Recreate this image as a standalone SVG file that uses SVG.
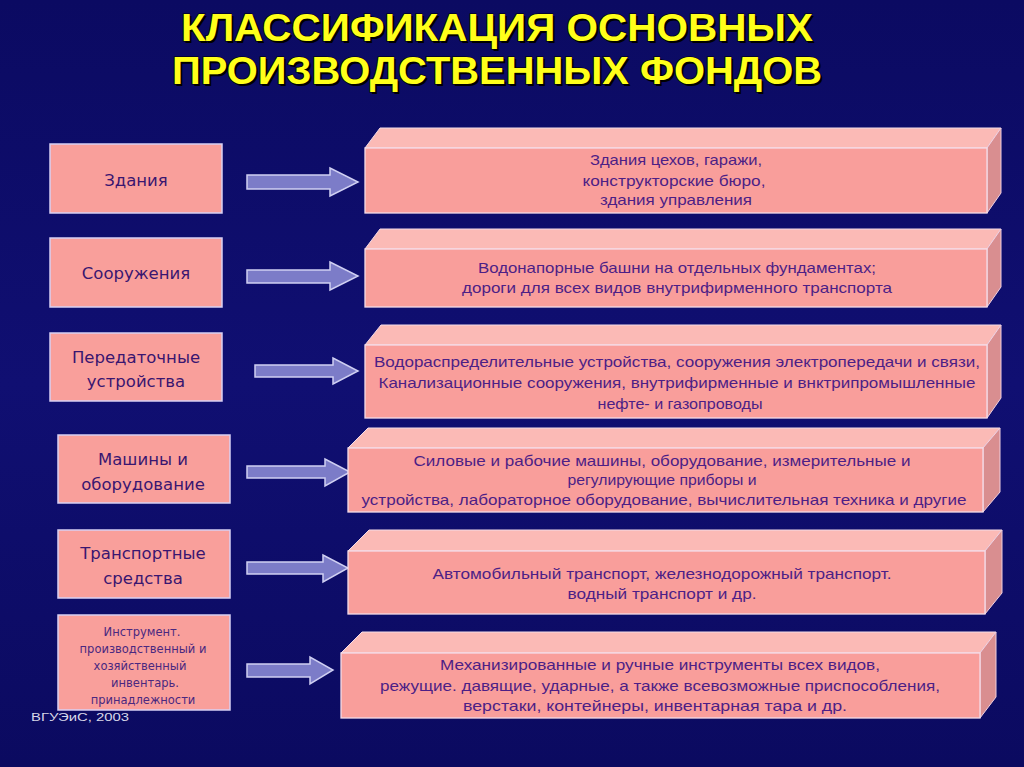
<svg xmlns="http://www.w3.org/2000/svg" width="1024" height="767" viewBox="0 0 1024 767">
<defs>
<linearGradient id="bg" x1="0" y1="0" x2="0" y2="1">
<stop offset="0" stop-color="#0b0a62"/>
<stop offset="0.5" stop-color="#100f72"/>
<stop offset="1" stop-color="#0b0a60"/>
</linearGradient>
<style>
.title{font-family:"Liberation Sans",Arial,sans-serif;font-weight:bold;font-size:39px;fill:#ffff1a;stroke:#000;stroke-width:1.2px;paint-order:stroke;text-anchor:middle}
.shadow{font-family:"Liberation Sans",Arial,sans-serif;font-weight:bold;font-size:39px;fill:#000;text-anchor:middle}
.lbox{fill:#f99f9b;stroke:#d8d0f4;stroke-width:1.5}
.ltxt{font-family:"DejaVu Sans","Liberation Sans",sans-serif;font-size:16.5px;fill:#3a1670;text-anchor:middle}
.stxt{font-family:"DejaVu Sans","Liberation Sans",sans-serif;font-size:11.5px;fill:#4a2880;text-anchor:middle}
.front{fill:#f99e9b;stroke:#f4dce8;stroke-width:1.3}
.top{fill:#fbbab6;stroke:#f4dce8;stroke-width:1}
.side{fill:#d98e90;stroke:#f0d0e0;stroke-width:1}
.rtxt{font-family:"Liberation Sans",Arial,sans-serif;font-size:14.5px;fill:#4d1f86;text-anchor:middle}
.arrow{fill:#7c7cc8;stroke:#cfcff2;stroke-width:1.5}
.foot{font-family:"Liberation Sans",Arial,sans-serif;font-size:11px;fill:#d8d8e8}
</style>
</defs>
<rect width="1024" height="767" fill="url(#bg)"/>

<g id="title">
<text class="shadow" x="499" y="43" textLength="632" lengthAdjust="spacingAndGlyphs">КЛАССИФИКАЦИЯ ОСНОВНЫХ</text>
<text class="shadow" x="499" y="86" textLength="650" lengthAdjust="spacingAndGlyphs">ПРОИЗВОДСТВЕННЫХ ФОНДОВ</text>
<text class="title" x="497" y="41" textLength="632" lengthAdjust="spacingAndGlyphs">КЛАССИФИКАЦИЯ ОСНОВНЫХ</text>
<text class="title" x="497" y="84" textLength="650" lengthAdjust="spacingAndGlyphs">ПРОИЗВОДСТВЕННЫХ ФОНДОВ</text>
</g>

<g id="connectors">
<polygon class="arrow" points="247,175 330,175 330,168 358,182 330,196 330,189 247,189"/>
<polygon class="arrow" points="247,270 330,270 330,262 358,276 330,290 330,283 247,283"/>
<polygon class="arrow" points="255,365 333,365 333,358 358,371 333,384 333,377 255,377"/>
<polygon class="arrow" points="247,466 325,466 325,459 350,472 325,486 325,478 247,478"/>
<polygon class="arrow" points="247,562 323,562 323,555 348,568 323,582 323,574 247,574"/>
<polygon class="arrow" points="247,664 310,664 310,657 333,670 310,684 310,677 247,677"/>
</g>

<g id="n1">
<rect class="lbox" x="50" y="144" width="172" height="69"/>
<text class="ltxt" x="136" y="186">Здания</text>
</g>
<g id="n2">
<rect class="lbox" x="50" y="238" width="172" height="69"/>
<text class="ltxt" x="136" y="279">Сооружения</text>
</g>
<g id="n3">
<rect class="lbox" x="50" y="333" width="172" height="68"/>
<text class="ltxt" x="136" y="363">Передаточные</text>
<text class="ltxt" x="136" y="387">устройства</text>
</g>
<g id="n4">
<rect class="lbox" x="58" y="435" width="172" height="68"/>
<text class="ltxt" x="143" y="465">Машины и</text>
<text class="ltxt" x="143" y="490">оборудование</text>
</g>
<g id="n5">
<rect class="lbox" x="58" y="530" width="172" height="68"/>
<text class="ltxt" x="143" y="559">Транспортные</text>
<text class="ltxt" x="143" y="584">средства</text>
</g>
<g id="n6">
<rect class="lbox" x="58" y="615" width="172" height="95"/>
<text class="stxt" x="142" y="636">Инструмент.</text>
<text class="stxt" x="143" y="653">производственный  и</text>
<text class="stxt" x="140" y="670">хозяйственный</text>
<text class="stxt" x="145" y="687">инвентарь.</text>
<text class="stxt" x="143" y="704">принадлежности</text>
</g>

<g id="r1">
<polygon class="top" points="365,148 380,128 1001,128 987,148"/>
<polygon class="side" points="987,148 1001,128 1001,193 987,213"/>
<rect class="front" x="365" y="148" width="622" height="65"/>
<text class="rtxt" x="676" y="165" textLength="172" lengthAdjust="spacingAndGlyphs">Здания цехов, гаражи,</text>
<text class="rtxt" x="674" y="186" textLength="183" lengthAdjust="spacingAndGlyphs">конструкторские бюро,</text>
<text class="rtxt" x="676" y="205" textLength="152" lengthAdjust="spacingAndGlyphs">здания управления</text>
</g>
<g id="r2">
<polygon class="top" points="365,249 380,229 1001,229 987,249"/>
<polygon class="side" points="987,249 1001,229 1001,287 987,307"/>
<rect class="front" x="365" y="249" width="622" height="58"/>
<text class="rtxt" x="677" y="273" textLength="398" lengthAdjust="spacingAndGlyphs">Водонапорные башни на отдельных фундаментах;</text>
<text class="rtxt" x="677" y="293" textLength="430" lengthAdjust="spacingAndGlyphs">дороги для всех видов внутрифирменного транспорта</text>
</g>
<g id="r3">
<polygon class="top" points="365,345 381,325 1001,325 987,345"/>
<polygon class="side" points="987,345 1001,325 1001,398 987,418"/>
<rect class="front" x="365" y="345" width="622" height="73"/>
<text class="rtxt" x="677" y="367" textLength="606" lengthAdjust="spacingAndGlyphs">Водораспределительные устройства, сооружения электропередачи и связи,</text>
<text class="rtxt" x="677" y="388" textLength="597" lengthAdjust="spacingAndGlyphs">Канализационные сооружения, внутрифирменные и внктрипромышленные</text>
<text class="rtxt" x="680" y="409" textLength="165" lengthAdjust="spacingAndGlyphs">нефте- и газопроводы</text>
</g>
<g id="r4">
<polygon class="top" points="348,448 368,428 1000,428 983,448"/>
<polygon class="side" points="983,448 1000,428 1000,492 983,512"/>
<rect class="front" x="348" y="448" width="635" height="64"/>
<text class="rtxt" x="662" y="466" textLength="497" lengthAdjust="spacingAndGlyphs">Силовые и рабочие машины, оборудование, измерительные и</text>
<text class="rtxt" x="662" y="485" textLength="189" lengthAdjust="spacingAndGlyphs">регулирующие приборы и</text>
<text class="rtxt" x="664" y="505" textLength="605" lengthAdjust="spacingAndGlyphs">устройства, лабораторное оборудование, вычислительная техника и другие</text>
</g>
<g id="r5">
<polygon class="top" points="348,551 369,530 1002,530 985,551"/>
<polygon class="side" points="985,551 1002,530 1002,593 985,614"/>
<rect class="front" x="348" y="551" width="637" height="63"/>
<text class="rtxt" x="662" y="579" textLength="459" lengthAdjust="spacingAndGlyphs">Автомобильный транспорт, железнодорожный транспорт.</text>
<text class="rtxt" x="662" y="599" textLength="189" lengthAdjust="spacingAndGlyphs">водный транспорт и др.</text>
</g>
<g id="r6">
<polygon class="top" points="341,653 362,632 996,632 980,653"/>
<polygon class="side" points="980,653 996,632 996,697 980,718"/>
<rect class="front" x="341" y="653" width="639" height="65"/>
<text class="rtxt" x="660" y="670" textLength="440" lengthAdjust="spacingAndGlyphs">Механизированные и ручные инструменты всех видов,</text>
<text class="rtxt" x="660" y="691" textLength="560" lengthAdjust="spacingAndGlyphs">режущие. давящие, ударные, а также всевозможные приспособления,</text>
<text class="rtxt" x="655" y="711" textLength="384" lengthAdjust="spacingAndGlyphs">верстаки, контейнеры, инвентарная тара и др.</text>
</g>

<text class="foot" x="31" y="721" textLength="98" lengthAdjust="spacingAndGlyphs">ВГУЭиС, 2003</text>
</svg>
